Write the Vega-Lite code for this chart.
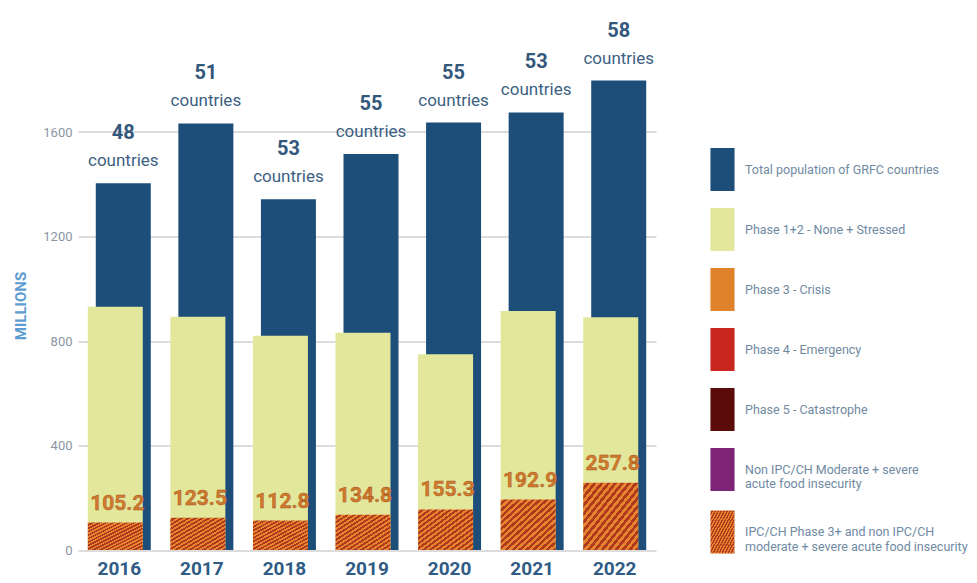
{
  "$schema": "https://vega.github.io/schema/vega-lite/v6.json",
  "width": 578,
  "height": 522.5,
  "autosize": {"type": "none"},
  "padding": {"left": 78, "top": 27.5, "right": 321, "bottom": 33},
  "background": "white",
  "config": {
    "font": "Roboto, sans-serif",
    "view": {"stroke": null}
  },
  "data": {
    "values": [
      {"year": "2016", "total": 1404, "analysed": 931, "phase3": 105.2, "countries": 48},
      {"year": "2017", "total": 1633, "analysed": 893, "phase3": 123.5, "countries": 51},
      {"year": "2018", "total": 1343, "analysed": 820, "phase3": 112.8, "countries": 53},
      {"year": "2019", "total": 1516, "analysed": 832, "phase3": 134.8, "countries": 55},
      {"year": "2020", "total": 1636, "analysed": 749, "phase3": 155.3, "countries": 55},
      {"year": "2021", "total": 1675, "analysed": 915, "phase3": 192.9, "countries": 53},
      {"year": "2022", "total": 1797, "analysed": 891, "phase3": 257.8, "countries": 58}
    ]
  },
  "encoding": {
    "x": {
      "field": "year", "type": "ordinal",
      "scale": {"paddingInner": 0, "paddingOuter": 0},
      "axis": {"title": null, "labelAngle": 0, "labelFontSize": 19, "labelFontWeight": "bold", "labelColor": "#2f5b85", "labelPadding": 9, "ticks": false, "domain": false}
    }
  },
  "layer": [
    {
      "mark": {"type": "bar", "xOffset": 4, "width": 55},
      "encoding": {
        "y": {
          "field": "total", "type": "quantitative",
          "scale": {"domain": [0, 2000], "nice": false},
          "axis": {"values": [0, 400, 800, 1200, 1600], "format": "d", "title": "MILLIONS", "titleFontSize": 15, "titleFontWeight": "bold", "titleColor": "#5d9cd0", "titleX": -58, "titleY": 278, "titleBaseline": "middle", "labelFontSize": 13, "labelColor": "#8a96a3", "labelPadding": 6, "ticks": false, "domain": false, "gridColor": "#dcdcdc", "gridWidth": 2}
        },
        "color": {
          "datum": "Total population of GRFC countries", "type": "nominal",
          "scale": {
            "domain": ["Total population of GRFC countries", "Phase 1+2 - None + Stressed", "Phase 3 - Crisis", "Phase 4 - Emergency", "Phase 5 - Catastrophe", "Non IPC/CH Moderate + severe acute food insecurity"],
            "range": ["#1d4e7a", "#e3e79c", "#e0812c", "#c8261f", "#5c0b0b", "#7d2477"]
          },
          "legend": {
            "orient": "none", "legendX": 623, "legendY": 120.5, "title": null,
            "symbolType": "M-0.56,-1H0.56V1H-0.56Z", "symbolSize": 1849, "symbolStrokeWidth": 0,
            "rowPadding": 17, "labelFontSize": 12.5, "labelColor": "#6f8aa2", "labelOffset": 1, "labelLimit": 300,
            "labelExpr": "datum.label == 'Non IPC/CH Moderate + severe acute food insecurity' ? ['Non IPC/CH Moderate + severe', 'acute food insecurity'] : datum.label"
          }
        }
      }
    },
    {
      "mark": {"type": "bar", "xOffset": -4, "width": 55},
      "encoding": {
        "y": {"field": "analysed", "type": "quantitative"},
        "color": {"datum": "Phase 1+2 - None + Stressed", "type": "nominal"}
      }
    },
    {
      "mark": {"type": "bar", "xOffset": -4, "width": 55, "fill": {"gradient": "linear", "x1": 0, "y1": 0, "x2": 1, "y2": 1, "stops": [
        {"offset": 0, "color": "#e5852f"}, {"offset": 0.03125, "color": "#e5852f"}, {"offset": 0.03125, "color": "#b0381d"}, {"offset": 0.0625, "color": "#b0381d"},
        {"offset": 0.0625, "color": "#e5852f"}, {"offset": 0.09375, "color": "#e5852f"}, {"offset": 0.09375, "color": "#b0381d"}, {"offset": 0.125, "color": "#b0381d"},
        {"offset": 0.125, "color": "#e5852f"}, {"offset": 0.15625, "color": "#e5852f"}, {"offset": 0.15625, "color": "#b0381d"}, {"offset": 0.1875, "color": "#b0381d"},
        {"offset": 0.1875, "color": "#e5852f"}, {"offset": 0.21875, "color": "#e5852f"}, {"offset": 0.21875, "color": "#b0381d"}, {"offset": 0.25, "color": "#b0381d"},
        {"offset": 0.25, "color": "#e5852f"}, {"offset": 0.28125, "color": "#e5852f"}, {"offset": 0.28125, "color": "#b0381d"}, {"offset": 0.3125, "color": "#b0381d"},
        {"offset": 0.3125, "color": "#e5852f"}, {"offset": 0.34375, "color": "#e5852f"}, {"offset": 0.34375, "color": "#b0381d"}, {"offset": 0.375, "color": "#b0381d"},
        {"offset": 0.375, "color": "#e5852f"}, {"offset": 0.40625, "color": "#e5852f"}, {"offset": 0.40625, "color": "#b0381d"}, {"offset": 0.4375, "color": "#b0381d"},
        {"offset": 0.4375, "color": "#e5852f"}, {"offset": 0.46875, "color": "#e5852f"}, {"offset": 0.46875, "color": "#b0381d"}, {"offset": 0.5, "color": "#b0381d"},
        {"offset": 0.5, "color": "#e5852f"}, {"offset": 0.53125, "color": "#e5852f"}, {"offset": 0.53125, "color": "#b0381d"}, {"offset": 0.5625, "color": "#b0381d"},
        {"offset": 0.5625, "color": "#e5852f"}, {"offset": 0.59375, "color": "#e5852f"}, {"offset": 0.59375, "color": "#b0381d"}, {"offset": 0.625, "color": "#b0381d"},
        {"offset": 0.625, "color": "#e5852f"}, {"offset": 0.65625, "color": "#e5852f"}, {"offset": 0.65625, "color": "#b0381d"}, {"offset": 0.6875, "color": "#b0381d"},
        {"offset": 0.6875, "color": "#e5852f"}, {"offset": 0.71875, "color": "#e5852f"}, {"offset": 0.71875, "color": "#b0381d"}, {"offset": 0.75, "color": "#b0381d"},
        {"offset": 0.75, "color": "#e5852f"}, {"offset": 0.78125, "color": "#e5852f"}, {"offset": 0.78125, "color": "#b0381d"}, {"offset": 0.8125, "color": "#b0381d"},
        {"offset": 0.8125, "color": "#e5852f"}, {"offset": 0.84375, "color": "#e5852f"}, {"offset": 0.84375, "color": "#b0381d"}, {"offset": 0.875, "color": "#b0381d"},
        {"offset": 0.875, "color": "#e5852f"}, {"offset": 0.90625, "color": "#e5852f"}, {"offset": 0.90625, "color": "#b0381d"}, {"offset": 0.9375, "color": "#b0381d"},
        {"offset": 0.9375, "color": "#e5852f"}, {"offset": 0.96875, "color": "#e5852f"}, {"offset": 0.96875, "color": "#b0381d"}, {"offset": 1, "color": "#b0381d"}
      ]}},
      "encoding": {
        "y": {"field": "phase3", "type": "quantitative"},
        "opacity": {
          "datum": "IPC/CH Phase 3+ and non IPC/CH moderate + severe acute food insecurity", "type": "nominal",
          "scale": {"domain": ["IPC/CH Phase 3+ and non IPC/CH moderate + severe acute food insecurity"], "range": [1]},
          "legend": {
            "orient": "none", "legendX": 623, "legendY": 483, "title": null,
            "symbolType": "M-0.56,-1H0.56V1H-0.56Z", "symbolSize": 1849, "symbolStrokeWidth": 0,
            "labelFontSize": 12.5, "labelColor": "#6f8aa2", "labelOffset": 1, "labelLimit": 300,
            "labelExpr": "['IPC/CH Phase 3+ and non IPC/CH', 'moderate + severe acute food insecurity']"
          }
        }
      }
    },
    {
      "mark": {"type": "text", "xOffset": -2, "dy": -13, "baseline": "alphabetic", "fontSize": 21, "fontWeight": "bold", "color": "#d27a2c", "stroke": "#a0521f", "strokeWidth": 0.4},
      "encoding": {
        "y": {"field": "phase3", "type": "quantitative"},
        "text": {"field": "phase3", "type": "quantitative", "format": ".1f"}
      }
    },
    {
      "mark": {"type": "text", "xOffset": 4, "dy": -44, "baseline": "alphabetic", "fontSize": 20, "fontWeight": "bold", "color": "#34587c"},
      "encoding": {
        "y": {"field": "total", "type": "quantitative"},
        "text": {"field": "countries", "type": "quantitative"}
      }
    },
    {
      "mark": {"type": "text", "xOffset": 4, "dy": -17, "baseline": "alphabetic", "fontSize": 17, "color": "#3d5f82"},
      "encoding": {
        "y": {"field": "total", "type": "quantitative"},
        "text": {"value": "countries"}
      }
    }
  ]
}
